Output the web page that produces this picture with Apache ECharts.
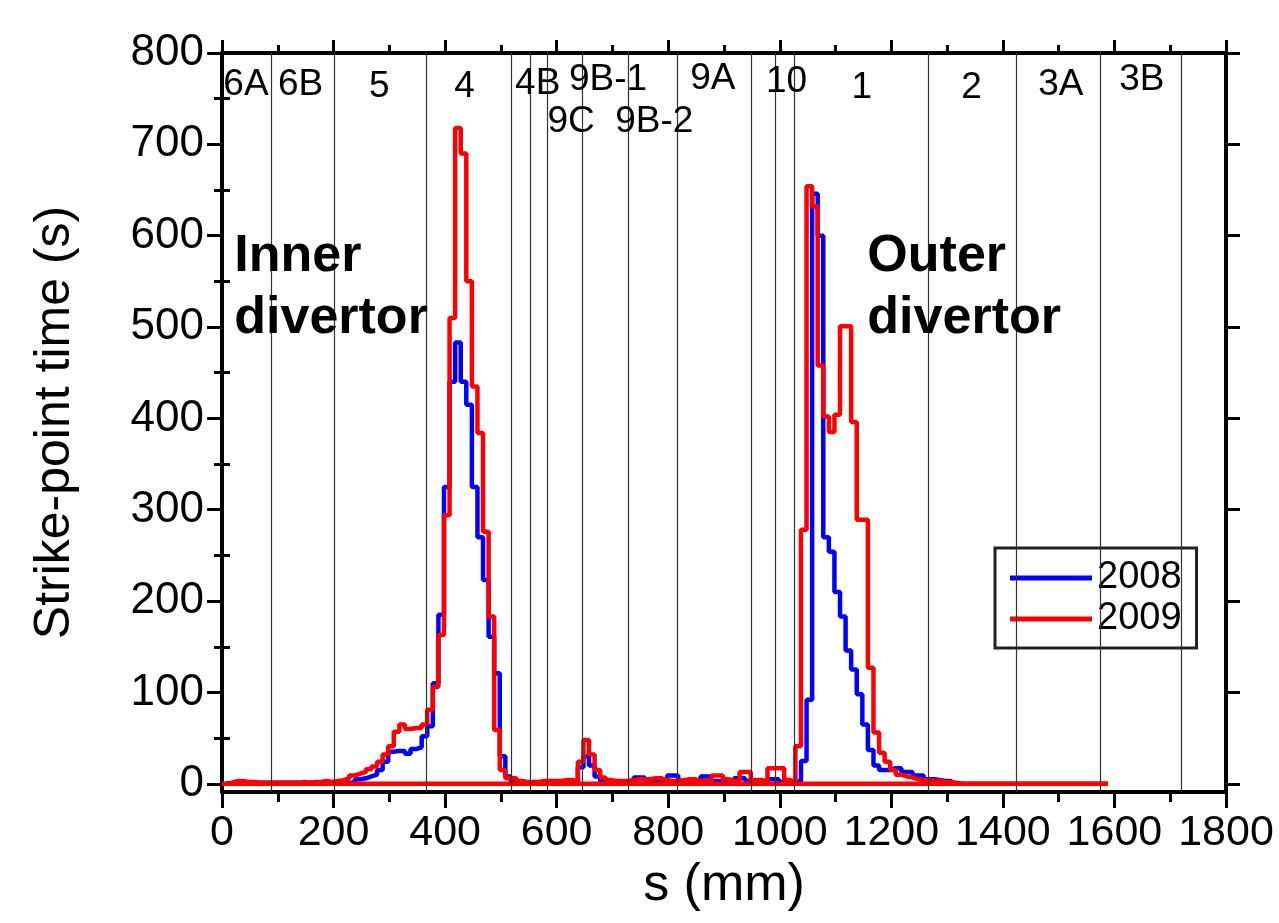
<!DOCTYPE html>
<html><head><meta charset="utf-8">
<script src="https://cdn.jsdelivr.net/npm/echarts@6/dist/echarts.min.js"></script>
<style>html,body{margin:0;padding:0;background:#fff}#c{width:1279px;height:923px}</style>
</head><body><div id="c"></div>
<script>
// ---- data ----
const binStart = 8;      // left edge of first bin (mm)
const binWidth = 10;     // bin width (mm)
const red2009 = [1,3,3,2,2,1,1,1,1,1, 1,1,1,2,1,2,2,3,2,3,
  4,6,9,11,13,16,19,24,32,41, 57,65,60,61,61,65,81,106,163,294,
  510,718,690,550,435,384,276,183,59,15, 6,6,3,2,2,2,3,3,3,3,
  4,4,3,24,48,32,15,7,4,3, 3,3,4,5,5,5,6,6,4,3,
  3,4,5,5,3,3,3,9,9,5, 3,3,13,13,4,4,3,17,17,17,
  4,2,41,278,654,632,458,402,385,404, 501,501,396,289,289,127,56,34,24,15,
  10,8,7,5,4,4,3,3,2,2, 1,0,0,0,0,0,0,0,0,0,
  0,0,0,0,0,0,0,0,0,0, 0,0,0,0,0,0,0,0];
const blue2008 = [1,1,1,1,1,1,1,1,1,1, 1,1,1,1,1,1,1,1,1,1,
  1,1,1,5,6,8,10,15,24,35, 36,36,33,38,40,52,63,110,185,325,
  440,483,440,415,325,270,223,161,121,30, 8,2,1,1,1,1,1,1,1,1,
  1,1,1,18,30,20,8,3,2,2, 2,2,3,7,7,2,2,2,3,9,
  9,3,2,2,3,8,8,3,3,2, 3,6,6,3,2,2,2,5,5,2,
  2,2,3,25,92,646,600,270,254,210, 183,146,125,98,65,37,20,15,15,17,
  17,13,13,9,9,5,5,4,3,3];
const regionBounds = [88,201,366,518,553,584,646,729,817,948,991,1026,1266,1424,1574,1720];
const regionNames = ['6A','6B','5','4','4B','9B-1','9C','9B-2','9A','10','1','2','3A','3B'];
const regionX = [43,141,282,435,566,692,626,775,880,1012,1147,1344,1504,1649];
const regionY = [765,765,763,763,766,771,725,725,772,769,762,762,765,771];
const zoneNames = ['Inner\ndivertor','Outer\ndivertor'];
const zoneX = [22,1157];
const zoneY = [543,543];
const xTickStep = 200;
const yMajor = [0,100,200,300,400,500,600,700,800];
const yMinor = [50,150,250,350,450,550,650,750];
const seriesNames = ['2008','2009'];

// ---- build ----
function hist(vals){
  const pts = [[binStart,0]];
  vals.forEach((v,i)=>pts.push([binStart+i*binWidth, v]));
  const end = binStart + vals.length*binWidth;
  pts.push([end, vals[vals.length-1]]);
  pts.push([end, 0]);
  return pts;
}
const FF = '"Liberation Sans", Arial, sans-serif';
const chart = echarts.init(document.getElementById('c'), null, {renderer:'canvas'});
const blk = '#000';
function yAx(pos, vals, len, labels, extra){
  return Object.assign({
    type:'value', min:-9, max:800, position:pos,
    axisLine:{show:true, onZero:false, lineStyle:{color:blk, width:4}},
    axisTick:{show:true, customValues:vals, length:len, inside:false, lineStyle:{color:blk, width:3}},
    axisLabel:labels ? {show:true, customValues:vals, fontSize:44, margin:18, color:blk, fontFamily:FF} : {show:false},
    splitLine:{show:false}
  }, extra||{});
}
function xAx(pos, labels, len, mlen, extra){
  return Object.assign({
    type:'value', min:0, max:1800, interval:xTickStep, position:pos,
    axisLine:{show:true, onZero:false, lineStyle:{color:blk, width:4}},
    axisTick:{show:true, length:len, inside:false, lineStyle:{color:blk, width:3}},
    minorTick:{show:true, splitNumber:2, length:mlen, lineStyle:{color:blk, width:3}},
    axisLabel:labels ? {show:true, fontSize:43, margin:20, color:blk, fontFamily:FF, formatter:v=>String(v)} : {show:false},
    splitLine:{show:false}
  }, extra||{});
}
const endRed = binStart + red2009.length*binWidth;
chart.setOption({
  animation:false,
  backgroundColor:'#fff',
  grid:{left:222, right:53, top:53, bottom:131, containLabel:false},
  xAxis:[
    xAx('bottom', true, 16, 10, {name:'s (mm)', nameLocation:'middle', nameGap:62,
      nameTextStyle:{fontSize:52, color:blk, fontFamily:FF}}),
    xAx('top', false, 13, 8)
  ],
  yAxis:[
    yAx('left', yMajor, 15, true, {name:'Strike-point time (s)', nameLocation:'middle', nameGap:142,
      nameTextStyle:{fontSize:50, color:blk, fontFamily:FF}}),
    yAx('left', yMinor, 8, false, {axisLine:{show:false}}),
    yAx('right', yMajor, 14, false),
    yAx('right', yMinor, 8, false, {axisLine:{show:false}})
  ],
  legend:{
    data:seriesNames, orient:'vertical', left:995, top:548,
    borderColor:'#222', borderWidth:3, backgroundColor:'#fff',
    padding:[11,15,10,15], itemWidth:82, itemHeight:5, itemGap:3, icon:'rect',
    textStyle:{fontSize:38, lineHeight:38, color:blk, fontFamily:FF}
  },
  series:[
    {type:'line', name:'bounds', data:[], z:1, silent:true,
     markLine:{silent:true, symbol:['none','none'], label:{show:false},
       lineStyle:{color:'#333', width:1.2, type:'solid'},
       data:regionBounds.map(v=>({xAxis:v}))}},
    {type:'line', name:seriesNames[0], data:hist(blue2008), step:'end', showSymbol:false, symbol:'none',
     lineStyle:{color:'#0000ff', width:4.5}, itemStyle:{color:'#0000ff'}, z:3},
    {type:'line', name:'base', data:[[0,0],[endRed,0]], showSymbol:false, symbol:'none',
     lineStyle:{color:'#ff0000', width:4.5}, z:4, silent:true},
    {type:'line', name:seriesNames[1], data:hist(red2009), step:'end', showSymbol:false, symbol:'none',
     lineStyle:{color:'#ff0000', width:4.5}, itemStyle:{color:'#ff0000'}, z:4},
    {type:'scatter', name:'regions', symbolSize:0, silent:true, z:5, itemStyle:{opacity:1},
     data:regionNames.map((n,i)=>({name:n, value:[regionX[i], regionY[i]]})),
     label:{show:true, position:'inside', formatter:p=>p.name, fontSize:37, color:blk, opacity:1, fontFamily:FF}},
    {type:'scatter', name:'zones', symbolSize:0, silent:true, z:5, itemStyle:{opacity:1},
     data:zoneNames.map((n,i)=>({name:n, value:[zoneX[i], zoneY[i]]})),
     label:{show:true, position:'right', distance:0, formatter:p=>p.name, fontSize:52, fontWeight:'bold',
       lineHeight:62, align:'left', color:blk, opacity:1, fontFamily:FF}}
  ]
});
</script></body></html>
